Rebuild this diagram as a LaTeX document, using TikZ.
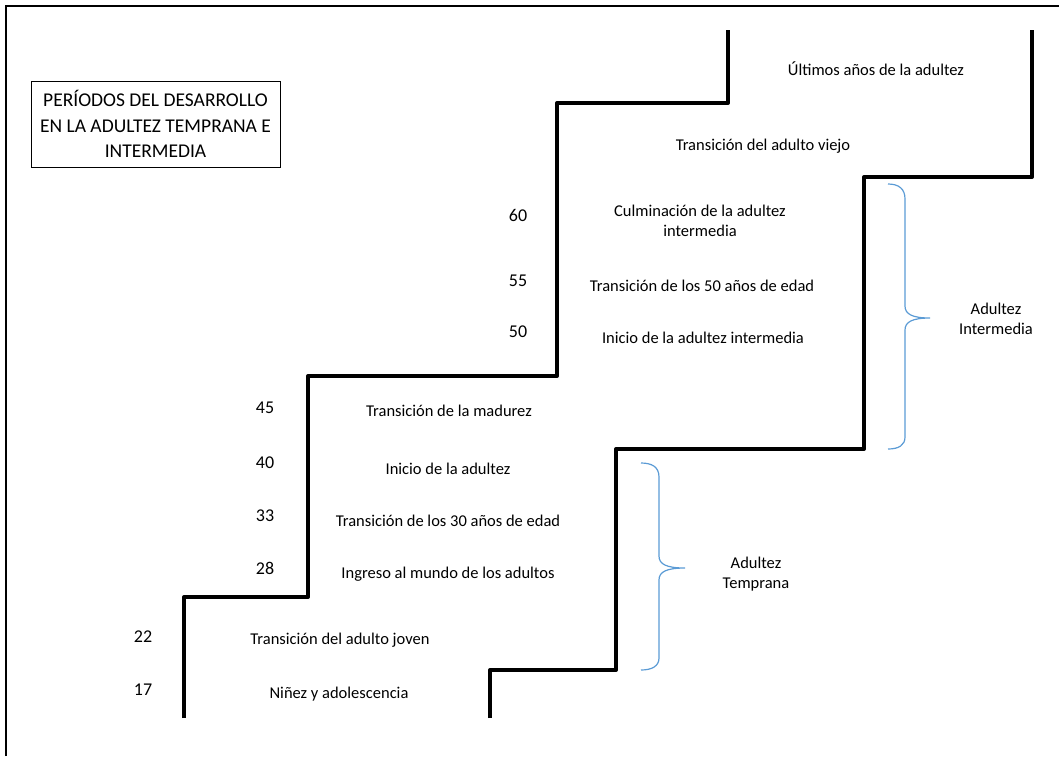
\documentclass[tikz,border=0pt]{standalone}
\usepackage{fontspec}
\setmainfont{Carlito}
\usepackage{xcolor}
\usetikzlibrary{positioning}
\definecolor{azul}{RGB}{91,155,213}
\tikzset{
    escalon/.style={line width=4pt, line join=round}, % los dos escalones negros
    etapa/.style={font=\fontsize{16.5}{20}\selectfont, align=center, inner sep=0pt}, % texto de cada periodo
    edad/.style={font=\fontsize{18}{20}\selectfont, inner sep=0pt}, % numeros de la izquierda
    llave/.style={draw=azul, line width=1.2pt},
}

\begin{document}
\begin{tikzpicture}[x=1pt, y=-1pt]
                \useasboundingbox (0,0) rectangle (1059,756);
                % Marco
                \draw[line width=2.6pt] (6,756) -- (6,6) -- (1059,6);

                % Titulo
                \node[draw, line width=1pt, minimum width=249pt, minimum height=86pt, align=center,
                      font=\fontsize{19.5}{25.5}\selectfont] (titulo) at (155.5,124)
                      {PERÍODOS DEL DESARROLLO\\EN LA ADULTEZ TEMPRANA E\\INTERMEDIA};

                % Escalones
                \draw[escalon] (184,718) -- (184,597) -- (308,597) -- (308,376) -- (557,376)
                               -- (557,103) -- (728,103) -- (728,30);
                \draw[escalon] (490,718) -- (490,670) -- (616,670) -- (616,449) -- (864,449)
                               -- (864,177) -- (1032,177) -- (1032,30);

                % Edades
                \node[edad] (e17) at (143,690) {17};
                \node[edad] (e22) at (143,637) {22};
                \node[edad] (e28) at (265,568) {28};
                \node[edad] (e33) at (265,516) {33};
                \node[edad] (e40) at (265,463) {40};
                \node[edad] (e45) at (265,408) {45};
                \node[edad] (e50) at (518,332) {50};
                \node[edad] (e55) at (518,281) {55};
                \node[edad] (e60) at (518,215) {60};

                % Periodos
                \node[etapa] (ninez) at (339,694) {Niñez y adolescencia};
                \node[etapa] (joven) at (340,640) {Transición del adulto joven};
                \node[etapa] (ingreso) at (448,574) {Ingreso al mundo de los adultos};
                \node[etapa] (treinta) at (448,521) {Transición de los 30 años de edad};
                \node[etapa] (inicio) at (448,469) {Inicio de la adultez};
                \node[etapa] (madurez) at (449,411) {Transición de la madurez};
                \node[etapa] (iniciom) at (703,338) {Inicio de la adultez intermedia};
                \node[etapa] (cincuenta) at (702,286) {Transición de los 50 años de edad};
                \node[etapa] (culmina) at (700,221) {Culminación de la adultez\\intermedia};
                \node[etapa] (viejo) at (763,146) {Transición del adulto viejo};
                \node[etapa] (ultimos) at (876,69) {Últimos años de la adultez};

                % Llaves
                \draw[llave] (888,184) .. controls (899,184) and (905,189) .. (905,199) -- (905,306)
                             .. controls (905,314) and (912,318) .. (930,318)
                             .. controls (912,318) and (905,322) .. (905,330) -- (905,437)
                             .. controls (905,445) and (899,449) .. (888,449);
                \draw[llave] (641,463) .. controls (652,463) and (659,467) .. (659,477) -- (659,556)
                             .. controls (659,564) and (666,568) .. (685,568)
                             .. controls (666,568) and (659,572) .. (659,580) -- (659,658)
                             .. controls (659,666) and (652,670) .. (641,670);
                \node[etapa] (intermedia) at (996,319) {Adultez\\Intermedia};
                \node[etapa] (temprana) at (756,574) {Adultez\\Temprana};

            \end{tikzpicture}
\end{document}
